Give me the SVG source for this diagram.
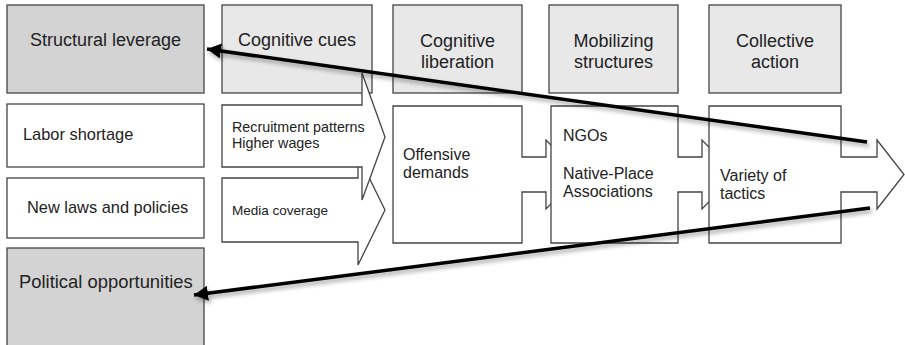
<svg xmlns="http://www.w3.org/2000/svg" width="905" height="345" viewBox="0 0 905 345">
<defs>
<style>
.box{stroke:#444;stroke-width:1.3}
.dark{fill:#d3d3d3}
.light{fill:#e8e8e8}
.white{fill:#fff}
text{font-family:"Liberation Sans",Arial,sans-serif;fill:#222}
.h{font-size:18px;text-anchor:middle}
.b{font-size:16px}
.s{font-size:14.3px}
.conn{stroke:#000;stroke-width:3.5;fill:none;marker-end:url(#ah)}
</style>
<marker id="ah" markerUnits="userSpaceOnUse" markerWidth="15" markerHeight="15" refX="14" refY="7.5" orient="auto">
<path d="M0,0 L14,7.5 L0,15 z" fill="#000"/>
</marker>
<filter id="sh" x="-10%" y="-50%" width="120%" height="200%">
<feDropShadow dx="2" dy="3" stdDeviation="2" flood-color="#000" flood-opacity="0.35"/>
</filter>
</defs>
<rect width="905" height="345" fill="#fff"/>

<g id="structural-leverage"><rect class="box dark" x="7" y="5" width="197" height="88"/><text class="h" x="105.5" y="46">Structural leverage</text></g>
<g id="cognitive-cues"><rect class="box light" x="222" y="5" width="150" height="88"/><text class="h" x="297" y="46">Cognitive cues</text></g>
<g id="cognitive-liberation"><rect class="box light" x="393" y="5" width="129" height="88"/><text class="h" x="457.5" y="47">Cognitive</text><text class="h" x="457.5" y="68">liberation</text></g>
<g id="mobilizing-structures"><rect class="box light" x="549" y="5" width="129" height="88"/><text class="h" x="613.5" y="47">Mobilizing</text><text class="h" x="613.5" y="68">structures</text></g>
<g id="collective-action"><rect class="box light" x="709" y="5" width="132" height="88"/><text class="h" x="775" y="47">Collective</text><text class="h" x="775" y="68">action</text></g>

<g id="labor-shortage"><rect class="box white" x="7" y="104" width="197" height="63"/><text class="b" x="23" y="140" style="font-size:16.4px">Labor shortage</text></g>
<g id="new-laws"><rect class="box white" x="7" y="178" width="197" height="60"/><text class="b" x="27" y="213" style="font-size:16.4px">New laws and policies</text></g>
<g id="political-opportunities"><rect class="box dark" x="7" y="248" width="197" height="102"/><text x="19" y="288" style="font-size:18.4px">Political opportunities</text></g>

<g id="media-coverage"><path class="box white" d="M222,178 H358 V155 L385,210 L358,265 V242 H222 Z"/><text class="s" x="232" y="215" style="font-size:13.5px">Media coverage</text></g>
<g id="recruitment"><path class="box white" d="M222,105 H362 V73 L385,137 L362,200 V167 H222 Z"/><text class="s" x="232" y="132">Recruitment patterns</text><text class="s" x="232" y="148">Higher wages</text></g>

<g id="offensive-demands"><path class="box white" d="M393,106 H522 V157 H546 V140 L580,174.5 L546,209 V192 H522 V243 H393 Z"/><text class="b" x="403" y="160">Offensive</text><text class="b" x="403" y="178">demands</text></g>
<g id="ngos"><path class="box white" d="M551,106 H678 V157 H702 V140 L736,174.5 L702,209 V192 H678 V243 H551 Z"/><text class="b" x="563" y="141">NGOs</text><text class="b" x="563" y="179">Native-Place</text><text class="b" x="563" y="197">Associations</text></g>
<g id="variety-of-tactics"><path class="box white" d="M709,106 H841 V157 H877 V140 L904,174.5 L877,209 V192 H841 V243 H709 Z"/><text class="b" x="720" y="181">Variety of</text><text class="b" x="720" y="199">tactics</text></g>

<g id="connectors" filter="url(#sh)">
<line class="conn" x1="867" y1="142" x2="207" y2="49"/>
<line class="conn" x1="870" y1="208" x2="194" y2="295"/>
</g>
</svg>
